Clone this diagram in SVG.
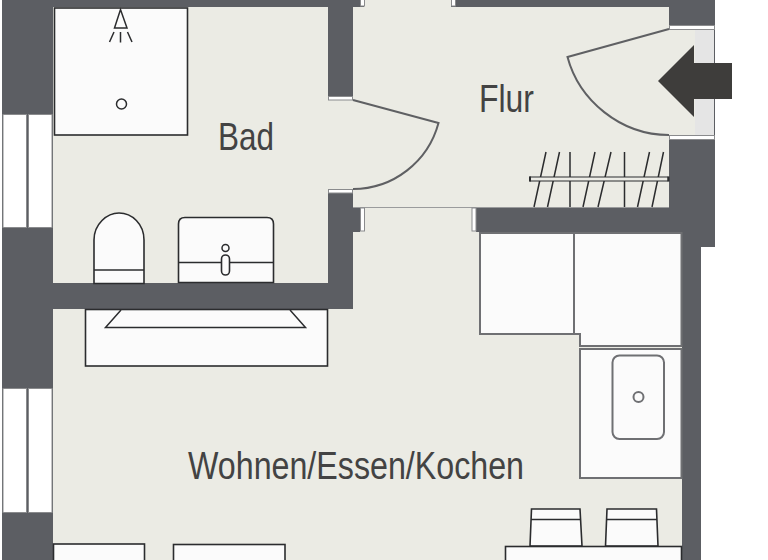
<svg xmlns="http://www.w3.org/2000/svg" width="768" height="560" viewBox="0 0 768 560">
<style>
.wall{fill:#5c5e63}
.floor{fill:#ebebe4}
.win{fill:#fff;stroke:#8a8b8d;stroke-width:1}
.strip{fill:#fff;stroke:#8a8b8d;stroke-width:1}
.fix{fill:#fbfbfb;stroke:#2b2c2e;stroke-width:1.6}
.kit{fill:#fbfbfb;stroke:#6f7073;stroke-width:2}
.door{fill:none;stroke:#5f6063;stroke-width:2}
.ln{fill:none;stroke:#2b2c2e;stroke-width:1.5}
.lbl{font-family:"Liberation Sans",Arial,sans-serif;fill:#434343;font-size:39px}
</style>
<rect width="768" height="560" fill="#fff"/>
<g id="walls">
<path class="wall" d="M2 0H715V247H701V560H2Z"/>
<path class="floor" d="M53 7H328V97H353V7H669V135H353V97H353V193H328V283H53Z"/>
<path class="floor" d="M364 0H451V8H364Z"/>
<path class="floor" d="M353 135H669V207H353Z"/>
<path class="floor" d="M360 207H476V233H360Z"/>
<path class="floor" d="M353 232H479V309H353Z"/>
<path class="floor" d="M53 309H682V560H53Z"/>
<rect x="669" y="29" width="27" height="106" class="floor"/>
<rect x="695" y="29" width="19" height="106" fill="#e5e5e5"/>
<path d="M353 207.500H669" stroke="#9a9b9c" stroke-width="1" fill="none"/>
<rect x="669.500" y="25.500" width="45" height="4" class="strip"/>
<rect x="669.500" y="135.500" width="45" height="4" class="strip"/>
<rect x="328.500" y="96.500" width="24" height="3.500" class="strip"/>
<rect x="328.500" y="189.500" width="24" height="3.500" class="strip"/>
<rect x="360.500" y="-2" width="4" height="8" class="strip"/>
<rect x="451.500" y="-2" width="4" height="8" class="strip"/>
<rect x="360.500" y="208" width="4" height="23" class="strip"/>
<rect x="472" y="208" width="4" height="23" class="strip"/>
</g>
<g id="windows">
<rect class="win" x="3" y="114.500" width="23.500" height="113"/>
<rect class="win" x="28.500" y="114.500" width="23.500" height="113"/>
<rect class="win" x="3" y="388.500" width="23.500" height="124"/>
<rect class="win" x="28.500" y="388.500" width="23.500" height="124"/>
</g>
<g id="shower">
<rect class="fix" x="54.500" y="8" width="133" height="127"/>
<path class="ln" d="M114.500 28L120.500 9.500L127 28ZM120.500 32V42.500M114 32L109.500 42M127.500 32L132 42"/>
<circle class="ln" cx="121.500" cy="104" r="5"/>
</g>
<g id="wc">
<path class="fix" d="M94 283.500V240C94 224 107 213 119 213C132 213 144 224 144 240V283.500Z"/>
<path class="ln" d="M94 270H144"/>
</g>
<g id="sink">
<path class="fix" d="M178.500 282.500V224Q178.500 217.500 185 217.500H267Q273.500 217.500 273.500 224V282.500Z"/>
<path class="ln" d="M178.500 262.500H273.500"/>
<rect x="221.500" y="255" width="8" height="20" rx="4" class="fix"/>
<circle class="ln" cx="225.500" cy="248" r="3.500"/>
</g>
<g id="flur-door">
<path class="door" d="M353 100L438.500 123C428 162 393 189 353 189"/>
</g>
<g id="entrance-door">
<path class="door" d="M669 29L567.500 57C579 100 620 135 669 135"/>
</g>
<g id="coat-rack">
<path class="ln" d="M534 207L546 152M547.500 207L559.500 152M570 207V152M583 207L595 152M598 207L611 152M624.500 207V152M637.500 207L649.500 152M652 207L663.500 152"/>
<rect x="530" y="177" width="138" height="4" fill="#ececE6" stroke="#2b2c2e" stroke-width="1"/>
<path d="M530 176.500V181.500M668.500 176.500V181.500" stroke="#2b2c2e" stroke-width="2"/>
</g>
<g id="sideboard">
<rect class="fix" x="85.500" y="309.500" width="242" height="56.500"/>
<path class="ln" d="M121 310L105.500 327.500H305.500L290 310"/>
</g>
<g id="kitchen">
<rect class="kit" x="480" y="233" width="94" height="101"/>
<path class="kit" d="M574 233H681.500V346H580V334H574Z"/>
<rect class="kit" x="580" y="349" width="101.500" height="129"/>
<rect x="612.500" y="355.500" width="51.500" height="83.500" rx="7" class="kit"/>
<circle class="kit" cx="638.500" cy="397" r="5"/>
</g>
<g id="dining">
<path class="fix" d="M530 546L531.500 509H580L582 546Z"/>
<path class="fix" d="M605.500 546L607 509H656.500L658 546Z"/>
<path class="ln" d="M531 519.500H581M607 519.500H657"/>
<rect class="fix" x="505.500" y="546.500" width="176" height="20"/>
</g>
<g id="bottom-furniture">
<rect class="fix" x="53.500" y="544" width="91" height="20"/>
<rect class="fix" x="173.500" y="544.500" width="111.500" height="20"/>
</g>
<g id="entry-arrow">
<path d="M658 81L694 45V63H732V99H694V117Z" fill="#3e3d3b"/>
</g>
<g id="labels">
<text class="lbl" x="218" y="150" textLength="56" lengthAdjust="spacingAndGlyphs">Bad</text>
<text class="lbl" x="479" y="112" textLength="55" lengthAdjust="spacingAndGlyphs">Flur</text>
<text class="lbl" x="188" y="479" textLength="336" lengthAdjust="spacingAndGlyphs">Wohnen/Essen/Kochen</text>
</g>
</svg>
